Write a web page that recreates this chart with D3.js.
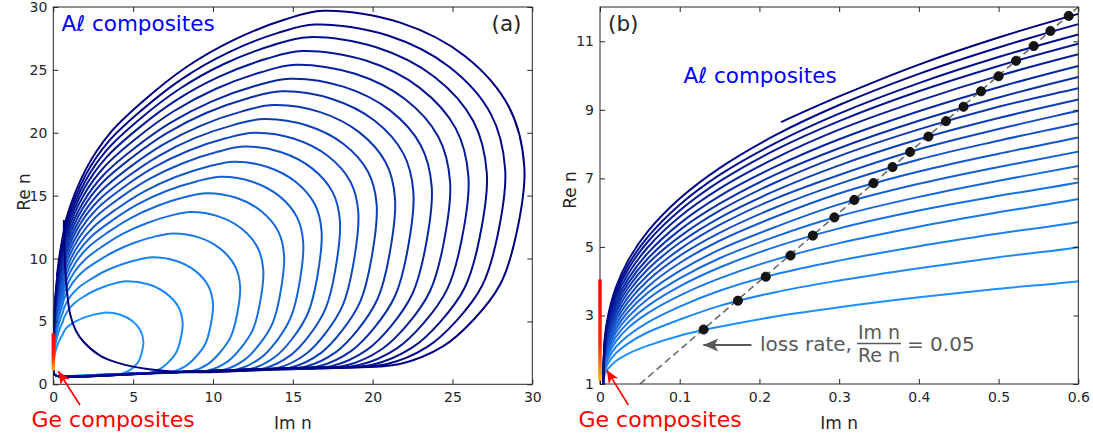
<!DOCTYPE html>
<html><head><meta charset="utf-8">
<script src="https://cdn.jsdelivr.net/npm/d3@7"></script>
<style>body{margin:0;background:#fff}svg{display:block}text{font-family:"DejaVu Sans",sans-serif}.tk text{font-size:14px !important}</style>
</head><body><svg id="c" width="1093" height="439"></svg>
<script>
// ---- data (Im n, Re n) ----
const loopIm = [
 [0.004,0.006,0.01,0.02,0.035,0.06,0.1,0.15,0.22,0.3,0.4,0.5,0.6, 0.64,0.84,1.09,1.44,1.88,2.37,2.90, 3.3, 4.20,4.95,5.46, 5.64, 5.54,5.36,5.04,4.68,4.17, 3.0,1.65,0.35,0.08,0.012],
 [0.004,0.006,0.01,0.02,0.035,0.06,0.1,0.15,0.22,0.3,0.4,0.5,0.6, 0.66,0.96,1.32,1.84,2.50,3.22,4.00, 4.6, 5.94,7.07,7.83, 8.1, 7.96,7.69,7.23,6.72,5.98, 4.3,2.37,0.35,0.08,0.012],
 [0.004,0.006,0.01,0.02,0.035,0.06,0.1,0.15,0.22,0.3,0.4,0.5,0.6, 0.68,1.10,1.61,2.34,3.26,4.27,5.36, 6.2, 7.66,8.89,9.71, 10.0, 9.83,9.50,8.92,8.29,7.38, 5.3,2.92,0.35,0.08,0.012],
 [0.004,0.006,0.01,0.02,0.035,0.06,0.1,0.15,0.22,0.3,0.4,0.5,0.6, 0.70,1.22,1.84,2.74,3.88,5.12,6.47, 7.5, 9.11,10.47,11.38, 11.7, 11.50,11.11,10.44,9.70,8.64, 6.2,3.41,0.35,0.08,0.012],
 [0.004,0.006,0.01,0.02,0.035,0.06,0.1,0.15,0.22,0.3,0.4,0.5,0.6, 0.72,1.32,2.04,3.08,4.40,5.84,7.40, 8.6, 10.34,11.82,12.80, 13.15, 12.93,12.49,11.74,10.91,9.72, 7.0,3.85,0.35,0.08,0.012],
 [0.004,0.006,0.01,0.02,0.035,0.06,0.1,0.15,0.22,0.3,0.4,0.5,0.6, 0.74,1.41,2.22,3.39,4.88,6.50,8.25, 9.6, 11.46,13.03,14.08, 14.45, 14.21,13.73,12.90,11.99,10.69, 7.7,4.24,0.35,0.08,0.012],
 [0.004,0.006,0.01,0.02,0.035,0.06,0.1,0.15,0.22,0.3,0.4,0.5,0.6, 0.75,1.49,2.38,3.67,5.30,7.08,9.02, 10.5, 12.47,14.14,15.26, 15.65, 15.39,14.86,13.97,12.97,11.56, 8.3,4.57,0.35,0.08,0.012],
 [0.004,0.006,0.01,0.02,0.035,0.06,0.1,0.15,0.22,0.3,0.4,0.5,0.6, 0.76,1.56,2.53,3.92,5.68,7.61,9.70, 11.3, 13.41,15.19,16.38, 16.8, 16.52,15.95,14.99,13.92,12.40, 8.9,4.90,0.35,0.08,0.012],
 [0.004,0.006,0.01,0.02,0.035,0.06,0.1,0.15,0.22,0.3,0.4,0.5,0.6, 0.77,1.63,2.65,4.13,6.02,8.07,10.29, 12.0, 14.28,16.21,17.50, 17.95, 17.65,17.05,16.02,14.87,13.24, 9.5,5.23,0.35,0.08,0.012],
 [0.004,0.006,0.01,0.02,0.035,0.06,0.1,0.15,0.22,0.3,0.4,0.5,0.6, 0.78,1.68,2.76,4.32,6.30,8.46,10.80, 12.6, 15.09,17.20,18.61, 19.1, 18.78,18.14,17.04,15.82,14.09, 10.1,5.56,0.35,0.08,0.012],
 [0.004,0.006,0.01,0.02,0.035,0.06,0.1,0.15,0.22,0.3,0.4,0.5,0.6, 0.79,1.73,2.87,4.51,6.59,8.85,11.31, 13.2, 15.90,18.18,19.71, 20.25, 19.91,19.23,18.06,16.77,14.93, 10.7,5.89,0.35,0.08,0.012],
 [0.004,0.006,0.01,0.02,0.035,0.06,0.1,0.15,0.22,0.3,0.4,0.5,0.6, 0.80,1.79,2.98,4.69,6.87,9.25,11.82, 13.8, 16.71,19.17,20.82, 21.4, 21.04,20.32,19.09,17.72,15.77, 11.3,6.22,0.35,0.08,0.012],
 [0.004,0.006,0.01,0.02,0.035,0.06,0.1,0.15,0.22,0.3,0.4,0.5,0.6, 0.81,1.83,3.07,4.85,7.11,9.57,12.25, 14.3, 17.46,20.13,21.92, 22.55, 22.17,21.41,20.11,18.67,16.62, 11.9,6.55,0.35,0.08,0.012],
 [0.004,0.006,0.01,0.02,0.035,0.06,0.1,0.15,0.22,0.3,0.4,0.5,0.6, 0.81,1.88,3.16,5.00,7.35,9.90,12.67, 14.8, 18.21,21.09,23.02, 23.7, 23.30,22.50,21.14,19.62,17.46, 12.5,6.88,0.35,0.08,0.012],
 [0.004,0.006,0.01,0.02,0.035,0.06,0.1,0.15,0.22,0.3,0.4,0.5,0.6, 0.82,1.91,3.23,5.13,7.54,10.16,13.01, 15.2, 18.90,22.02,24.12, 24.85, 24.43,23.59,22.16,20.57,18.31, 13.1,7.21,0.35,0.08,0.012],
 [0.004,0.006,0.01,0.02,0.035,0.06,0.1,0.15,0.22,0.3,0.4,0.5,0.6, 0.83,1.95,3.30,5.25,7.73,10.43,13.35, 15.6, 19.58,22.95,25.21, 26.0, 25.56,24.68,23.18,21.52,19.15, 13.7,7.54,0.35,0.08,0.012],
 [0.004,0.006,0.01,0.02,0.035,0.06,0.1,0.15,0.22,0.3,0.4,0.5,0.6, 0.83,1.99,3.37,5.37,7.92,10.69,13.69, 16.0, 20.27,23.88,26.30, 27.15, 26.69,25.78,24.21,22.47,19.99, 14.3,7.87,0.35,0.08,0.012],
 [0.004,0.006,0.01,0.02,0.035,0.06,0.1,0.15,0.22,0.3,0.4,0.5,0.6, 0.84,2.02,3.44,5.50,8.11,10.95,14.03, 16.4, 20.96,24.81,27.40, 28.3, 27.82,26.87,25.23,23.42,20.84, 14.9,8.20,0.35,0.08,0.012],
 [0.228,0.3,0.4,0.5,0.6, 0.84,2.07,3.53,5.65,8.34,11.28,14.46, 16.9, 21.73,25.81,28.54, 29.5, 29.0,28.0,26.29,24.40,21.70, 15.5,12.2,9.2,6.0,4.0,2.9,1.88,1.4,1.05,0.85,0.74,0.68,0.66]
];
const loopRe = [
 [1.0,1.28,1.44,1.67,1.88,2.12,2.41,2.67,2.97,3.24,3.53,3.78,4.00, 4.14,4.51,4.77,5.02,5.28,5.48,5.63, 5.7, 5.53,5.03,4.28, 3.4, 2.52,1.86,1.38,1.04,0.81, 0.76,0.69,0.63,0.75,0.93],
 [1.0,1.38,1.60,1.90,2.18,2.51,2.88,3.28,3.68,4.02,4.38,4.70,4.99, 5.26,5.95,6.45,6.92,7.40,7.78,8.07, 8.2, 7.95,7.23,6.16, 4.9, 3.53,2.51,1.78,1.24,0.89, 0.81,0.73,0.63,0.75,0.93],
 [1.0,1.46,1.72,2.08,2.41,2.80,3.26,3.72,4.20,4.60,5.02,5.39,5.73, 6.10,7.04,7.72,8.35,9.01,9.53,9.93, 10.1, 9.82,9.02,7.82, 6.4, 4.54,3.16,2.17,1.45,0.97, 0.86,0.75,0.63,0.75,0.93],
 [1.0,1.53,1.83,2.24,2.63,3.07,3.58,4.08,4.63,5.11,5.59,6.01,6.40, 6.87,8.08,8.95,9.76,10.60,11.27,11.78, 12.0, 11.68,10.77,9.41, 7.8, 5.49,3.77,2.53,1.63,1.03, 0.90,0.77,0.63,0.75,0.93],
 [1.0,1.59,1.92,2.37,2.79,3.28,3.85,4.40,5.00,5.54,6.06,6.49,6.88, 7.45,8.93,9.98,10.97,12.00,12.81,13.43, 13.7, 13.35,12.35,10.86, 9.1, 6.37,4.33,2.87,1.80,1.10, 0.94,0.79,0.63,0.75,0.93],
 [1.0,1.65,2.01,2.50,2.95,3.48,4.08,4.67,5.30,5.90,6.46,6.93,7.36, 8.02,9.71,10.93,12.06,13.24,14.18,14.89, 15.2, 14.83,13.76,12.18, 10.3, 7.17,4.85,3.17,1.96,1.15, 0.97,0.81,0.63,0.75,0.93],
 [1.0,1.71,2.09,2.61,3.10,3.66,4.30,4.92,5.58,6.24,6.84,7.33,7.78, 8.51,10.40,11.75,13.01,14.32,15.37,16.15, 16.5, 16.10,14.98,13.29, 11.3, 7.85,5.28,3.42,2.08,1.19, 0.99,0.83,0.63,0.75,0.93],
 [1.0,1.76,2.17,2.73,3.24,3.84,4.53,5.18,5.88,6.56,7.20,7.72,8.19, 8.99,11.04,12.52,13.90,15.32,16.46,17.32, 17.7, 17.28,16.09,14.31, 12.2, 8.45,5.67,3.66,2.21,1.23, 1.02,0.84,0.63,0.75,0.93],
 [1.0,1.82,2.26,2.85,3.39,4.02,4.74,5.41,6.15,6.84,7.55,8.10,8.60, 9.47,11.69,13.29,14.78,16.33,17.56,18.49, 18.9, 18.45,17.17,15.26, 13.0, 9.00,6.02,3.87,2.32,1.28, 1.05,0.86,0.63,0.75,0.93],
 [1.0,1.87,2.34,2.96,3.53,4.18,4.93,5.64,6.41,7.10,7.85,8.44,8.97, 9.90,12.28,13.99,15.59,17.24,18.57,19.56, 20.0, 19.52,18.15,16.11, 13.7, 9.47,6.32,4.05,2.41,1.31, 1.07,0.87,0.63,0.75,0.93],
 [1.0,1.93,2.42,3.07,3.67,4.35,5.12,5.85,6.64,7.38,8.14,8.76,9.30, 10.29,12.84,14.67,16.38,18.15,19.57,20.63, 21.1, 20.58,19.11,16.90, 14.3, 9.88,6.59,4.22,2.50,1.35, 1.10,0.89,0.63,0.75,0.93],
 [1.0,1.98,2.50,3.17,3.80,4.51,5.30,6.06,6.88,7.65,8.43,9.09,9.63, 10.69,13.40,15.35,17.17,19.06,20.57,21.70, 22.2, 21.64,20.03,17.63, 14.8, 10.22,6.82,4.36,2.58,1.39, 1.13,0.90,0.63,0.75,0.93],
 [1.0,2.04,2.58,3.28,3.93,4.66,5.49,6.26,7.11,7.88,8.68,9.36,9.96, 11.08,13.96,16.03,17.96,19.97,21.57,22.77, 23.3, 22.69,20.96,18.36, 15.3, 10.56,7.04,4.50,2.66,1.43, 1.16,0.92,0.63,0.75,0.93],
 [1.0,2.10,2.65,3.39,4.06,4.82,5.68,6.48,7.34,8.14,8.96,9.66,10.28, 11.46,14.49,16.66,18.69,20.80,22.48,23.74, 24.3, 23.65,21.78,18.99, 15.7, 10.84,7.22,4.61,2.72,1.46, 1.18,0.93,0.63,0.75,0.93],
 [1.0,2.16,2.74,3.51,4.20,4.99,5.88,6.70,7.59,8.42,9.26,9.99,10.62, 11.86,15.05,17.34,19.49,21.71,23.48,24.81, 25.4, 24.69,22.68,19.66, 16.1, 11.11,7.40,4.72,2.79,1.49, 1.21,0.94,0.63,0.75,0.93],
 [1.0,2.21,2.82,3.61,4.34,5.15,6.06,6.91,7.83,8.67,9.54,10.28,10.93, 12.24,15.60,18.01,20.27,22.61,24.48,25.88, 26.5, 25.74,23.57,20.33, 16.5, 11.39,7.59,4.84,2.86,1.53, 1.24,0.96,0.63,0.75,0.93],
 [1.0,2.27,2.90,3.71,4.46,5.29,6.23,7.10,8.03,8.89,9.78,10.54,11.20, 12.58,16.12,18.66,21.04,23.50,25.47,26.94, 27.6, 26.78,24.44,20.94, 16.8, 11.59,7.72,4.93,2.91,1.56, 1.26,0.97,0.63,0.75,0.93],
 [1.0,2.33,2.98,3.82,4.59,5.45,6.41,7.30,8.26,9.14,10.05,10.82,11.50, 12.94,16.63,19.28,21.76,24.33,26.38,27.92, 28.6, 27.73,25.23,21.50, 17.1, 11.80,7.87,5.02,2.97,1.59, 1.29,0.99,0.63,0.75,0.93],
 [8.65,9.39,10.32,11.11,11.80, 13.30,17.17,19.94,22.54,25.23,27.37,28.98, 29.7, 28.76,26.07,22.05, 17.3, 11.95,7.97,5.09,3.01,1.62, 1.32,1.10,0.95,1.2,1.72,2.3,3.4,4.3,5.6,7.5,9.5,11.5,13.0]
];
const dotIm = [0.130,0.173,0.208,0.239,0.267,0.294,0.319,0.343,0.367,0.389,0.412,0.434,0.456,0.478,0.500,0.522,0.544,0.565,0.588];
const dotRe = [2.59,3.43,4.13,4.75,5.33,5.86,6.37,6.86,7.33,7.77,8.22,8.67,9.09,9.54,9.98,10.43,10.86,11.30,11.74];
const lossIm = [0.05,0.6];
const lossRe = [1,12];
const geIm = [0,0];
const geRe = [1.1,4.05];
const aTicks = [0,5,10,15,20,25,30];
const bTicksX = [0,0.1,0.2,0.3,0.4,0.5,0.6];
const bTicksY = [1,3,5,7,9,11];

// ---- drawing ----
const svg = d3.select("#c");
const defs = svg.append("defs");
const ink = "#262626";
const color = i => d3.interpolateRgb("#1e90ff","#000080")(i/(loopIm.length-1));

function panel(cfg){
  const x = d3.scaleLinear().domain(cfg.xd).range([cfg.x0,cfg.x1]);
  const y = d3.scaleLinear().domain(cfg.yd).range([cfg.yb,cfg.yt]);
  const cid = "clip-"+cfg.id;
  defs.append("clipPath").attr("id",cid).append("rect")
    .attr("x",cfg.x0).attr("y",cfg.yt).attr("width",cfg.x1-cfg.x0).attr("height",cfg.yb-cfg.yt);
  const g = svg.append("g");
  const plot = g.append("g").attr("clip-path",`url(#${cid})`);
  const line = d3.line().x(d=>x(d[0])).y(d=>y(d[1])).curve(d3.curveCatmullRom.alpha(0.5));
  loopIm.forEach((im,i)=>{
    plot.append("path").attr("d",line(d3.zip(im,loopRe[i])))
      .attr("fill","none").attr("stroke",color(i)).attr("stroke-width",2)
      .attr("stroke-linejoin","round").attr("stroke-linecap","round");
  });
  if(cfg.id==="b"){
    plot.append("path").attr("d",d3.line().x(d=>x(d[0])).y(d=>y(d[1]))(d3.zip(lossIm,lossRe)))
      .attr("stroke","#6a6a6a").attr("stroke-width",1.6).attr("stroke-dasharray","7,4").attr("fill","none");
    plot.selectAll("circle.dot").data(d3.zip(dotIm,dotRe)).join("circle")
      .attr("cx",d=>x(d[0])).attr("cy",d=>y(d[1])).attr("r",4.6)
      .attr("fill","#151515").attr("stroke","#000").attr("stroke-width",0.8);
  }
  // axes (ticks inward, box)
  const ax = g.append("g");
  const bottom = d3.axisBottom(x).tickValues(cfg.xt).tickSize(-5).tickSizeOuter(0).tickPadding(8).tickFormat(cfg.fx);
  const topAx = d3.axisTop(x).tickValues(cfg.xt).tickSize(-5).tickSizeOuter(0).tickFormat("");
  const left = d3.axisLeft(y).tickValues(cfg.yt2).tickSize(-5).tickSizeOuter(0).tickPadding(6).tickFormat(cfg.fy);
  const right = d3.axisRight(y).tickValues(cfg.yt2).tickSize(-5).tickSizeOuter(0).tickFormat("");
  [[bottom,`translate(0,${cfg.yb})`],[topAx,`translate(0,${cfg.yt})`],[left,`translate(${cfg.x0},0)`],[right,`translate(${cfg.x1},0)`]]
    .forEach(([a,t])=>{
      const s = ax.append("g").attr("class","tk").attr("transform",t).call(a);
      s.attr("font-size",14).attr("font-family","DejaVu Sans");
      s.select(".domain").remove();
      s.selectAll("line").attr("stroke",ink);
      s.selectAll("text").attr("fill",ink).style("font-size","14px").style("font-family","DejaVu Sans");
    });
  g.append("rect").attr("x",cfg.x0).attr("y",cfg.yt).attr("width",cfg.x1-cfg.x0).attr("height",cfg.yb-cfg.yt)
    .attr("fill","none").attr("stroke",ink).attr("stroke-width",1);
  // Ge composites bar
  const gid = "geg-"+cfg.id;
  const lg = defs.append("linearGradient").attr("id",gid).attr("gradientUnits","userSpaceOnUse")
    .attr("x1",0).attr("x2",0).attr("y1",y(geRe[0])).attr("y2",y(geRe[1]));
  [[0,"#ffb400"],[0.15,"#ff7a00"],[0.35,"#ff2a00"],[1,"#ff0000"]].forEach(([o,c])=>lg.append("stop").attr("offset",o).attr("stop-color",c));
  g.append("path").attr("d",d3.line().x(d=>x(d[0])).y(d=>y(d[1]))(d3.zip(geIm,geRe)))
    .attr("stroke",`url(#${gid})`).attr("stroke-width",3.5).attr("fill","none");
  // axis labels
  g.append("text").attr("transform",`translate(${cfg.ylx},${cfg.yly}) rotate(-90)`).attr("text-anchor","middle")
    .attr("font-size",17).attr("fill",ink).text("Re n");
  g.append("text").attr("x",(cfg.x0+cfg.x1)/2).attr("y",429).attr("text-anchor","middle")
    .attr("font-size",17).attr("fill",ink).text("Im n");
  return {x,y,g};
}

function arrow(g,x1,y1,x2,y2,col,w,hl,hw){
  g.append("line").attr("x1",x1).attr("y1",y1).attr("x2",x2).attr("y2",y2).attr("stroke",col).attr("stroke-width",w);
  const a = Math.atan2(y2-y1,x2-x1), ca=Math.cos(a), sa=Math.sin(a);
  const bx = x2-hl*ca, by = y2-hl*sa;
  g.append("path").attr("d",`M${x2},${y2}L${bx-hw*sa},${by+hw*ca}L${bx+hl*0.25*ca},${by+hl*0.25*sa}L${bx+hw*sa},${by-hw*ca}Z`).attr("fill",col);
}

const A = panel({id:"a",x0:53.3,x1:532.3,yb:384.3,yt:7,xd:[0,30],yd:[0,30],xt:aTicks,yt2:aTicks,
  fx:d3.format("d"),fy:d3.format("d"),ylx:29.5,yly:192});
const B = panel({id:"b",x0:600,x1:1078.3,yb:384,yt:7,xd:[0,0.6],yd:[1,12],xt:bTicksX,yt2:bTicksY,
  fx:d=>d===0?"0":d3.format(".1f")(d),fy:d3.format("d"),ylx:576,yly:190});

// annotations panel a
A.g.append("text").attr("x",61.5).attr("y",31).attr("font-size",21.5).attr("fill","#0000ff").text("Aℓ composites");
A.g.append("text").attr("x",491.5).attr("y",31).attr("font-size",21.5).attr("fill",ink).text("(a)");
A.g.append("text").attr("x",31.5).attr("y",427).attr("font-size",22).attr("fill","#ff0000").text("Ge composites");
arrow(A.g,A.x(1.67),A.y(-1.65),A.x(0.31),A.y(1.06),"#ff0000",1.6,13,5.5);

// annotations panel b
B.g.append("text").attr("x",608).attr("y",31).attr("font-size",21.5).attr("fill",ink).text("(b)");
B.g.append("text").attr("x",683.5).attr("y",83).attr("font-size",21.5).attr("fill","#0000ff").text("Aℓ composites");
B.g.append("text").attr("x",578.5).attr("y",427).attr("font-size",22).attr("fill","#ff0000").text("Ge composites");
arrow(B.g,B.x(0.0355),B.y(0.387),B.x(0.0084),B.y(1.41),"#ff0000",1.6,13,5.5);
const gray="#595959";
arrow(B.g,B.x(0.19),B.y(2.14),B.x(0.1296),B.y(2.14),gray,2,15,6.5);
B.g.append("text").attr("x",760).attr("y",351).attr("font-size",20).attr("fill",gray).text("loss rate,");
B.g.append("text").attr("x",879).attr("y",338.5).attr("text-anchor","middle").attr("font-size",19).attr("fill",gray).text("Im n");
B.g.append("line").attr("x1",857).attr("x2",901).attr("y1",343.5).attr("y2",343.5).attr("stroke",gray).attr("stroke-width",1.3);
B.g.append("text").attr("x",879).attr("y",362).attr("text-anchor","middle").attr("font-size",19).attr("fill",gray).text("Re n");
B.g.append("text").attr("x",907).attr("y",351).attr("font-size",20).attr("fill",gray).text("= 0.05");
</script></body></html>
